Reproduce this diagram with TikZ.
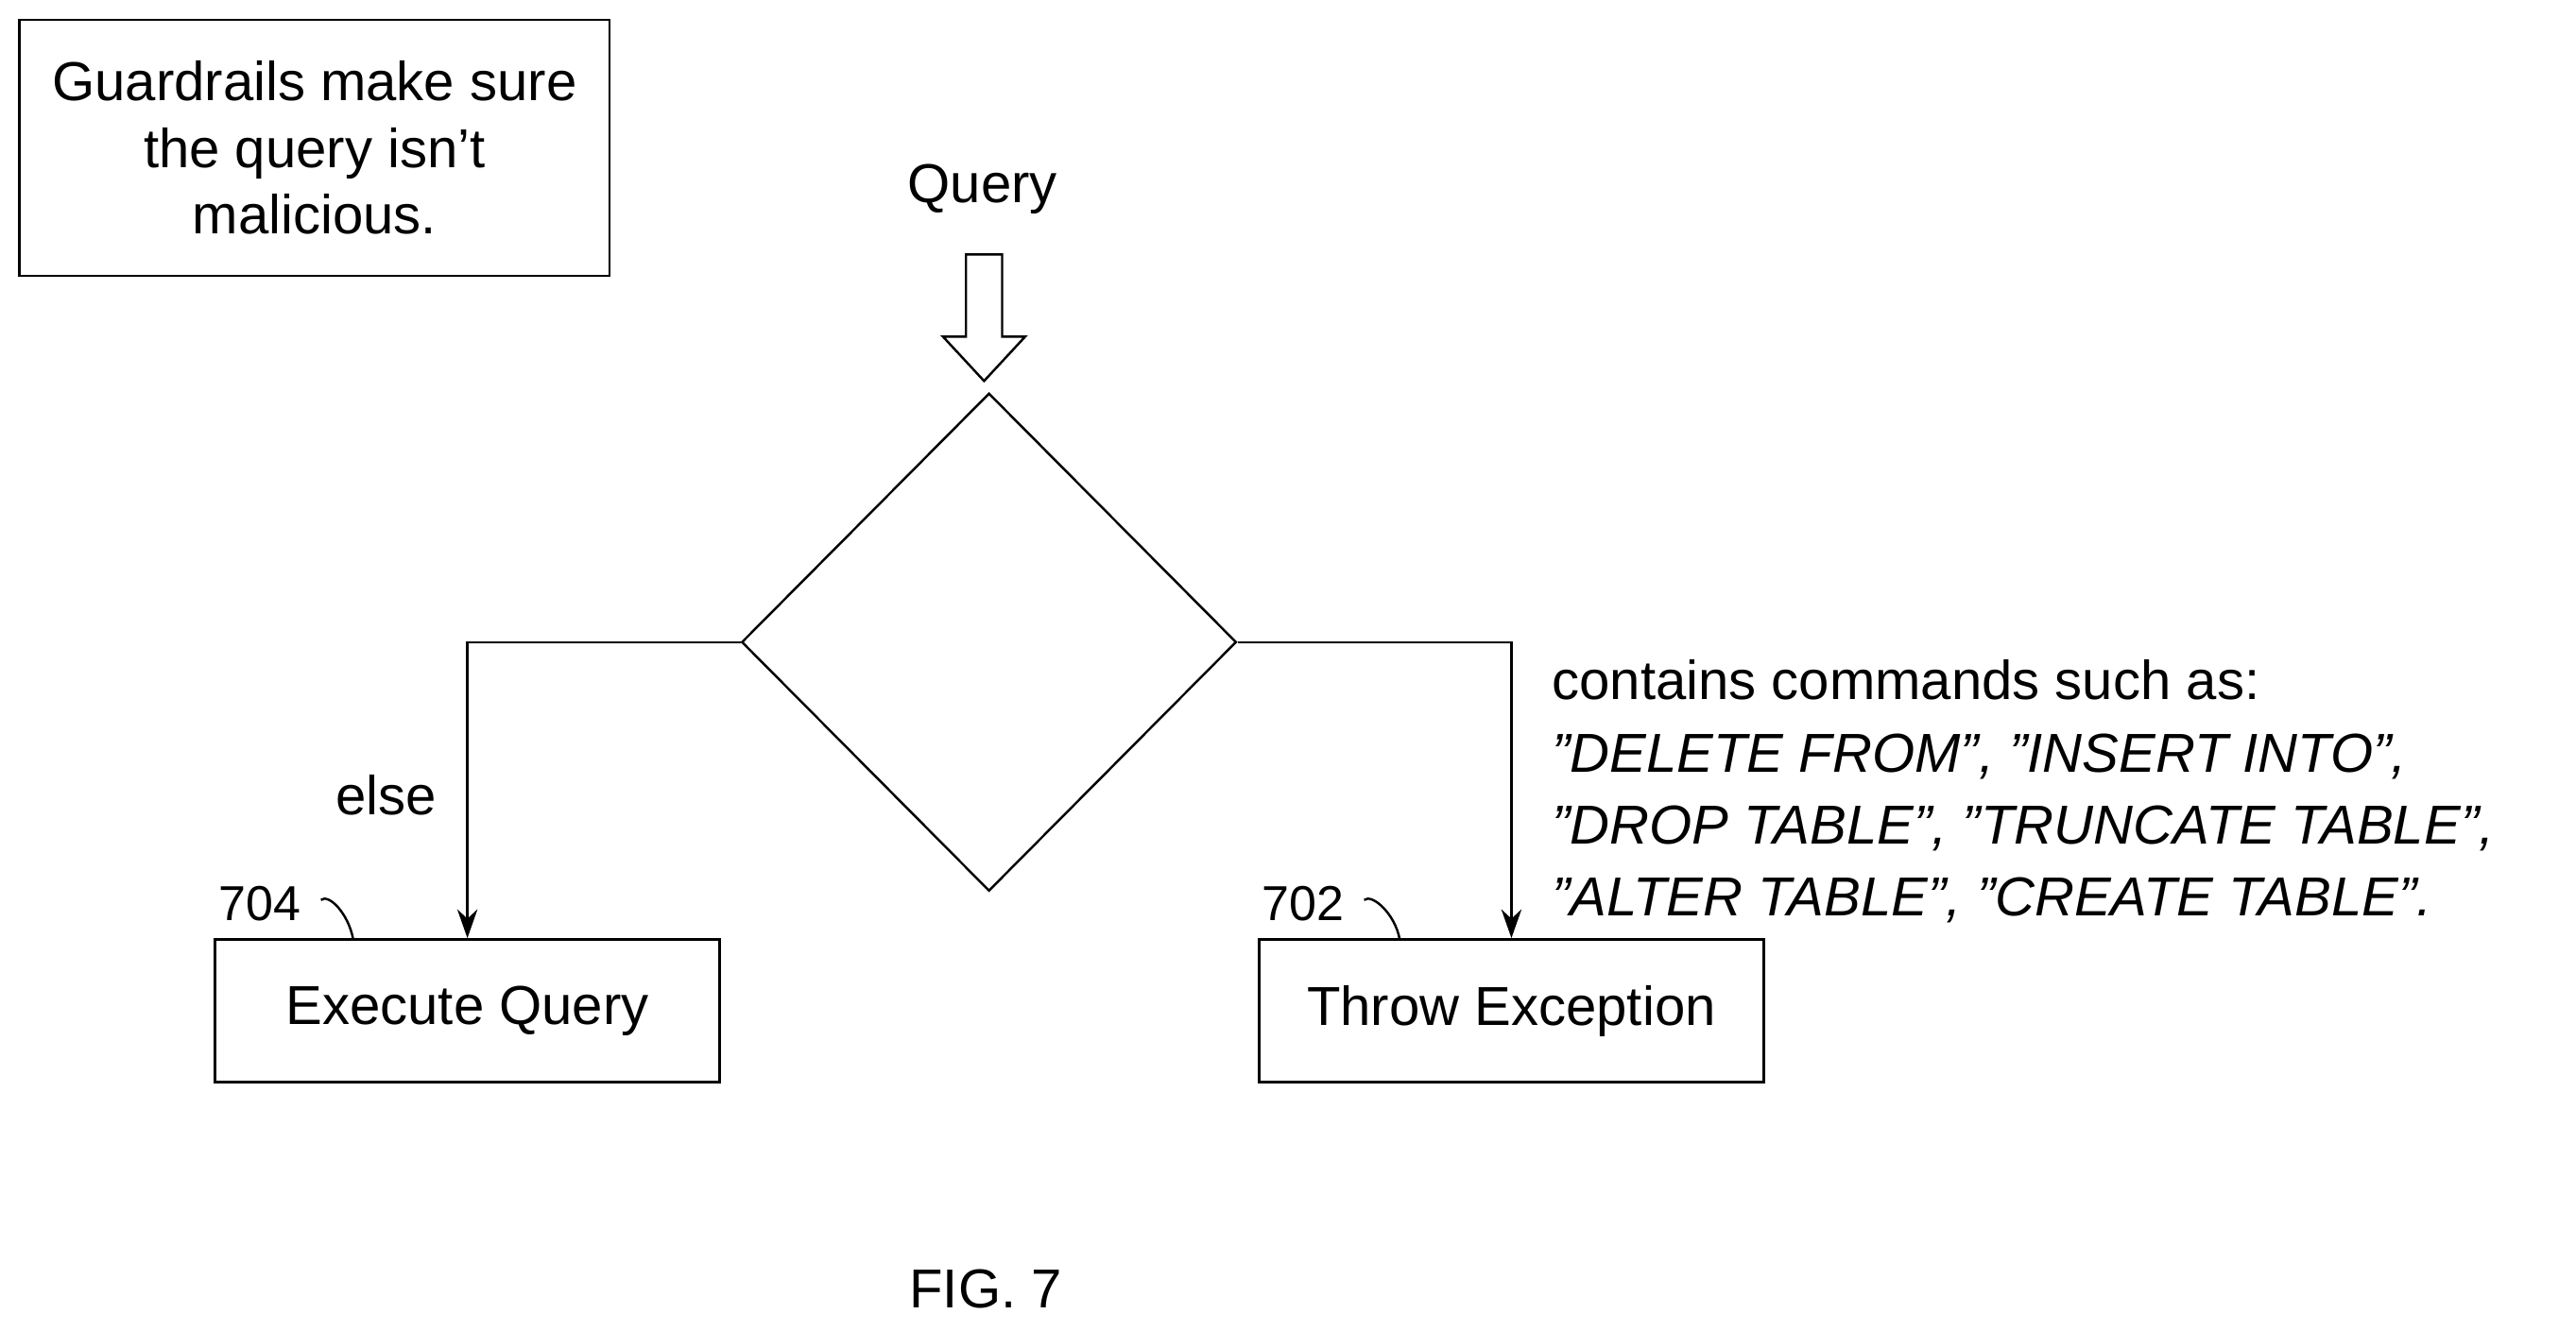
\documentclass[tikz,border=0pt]{standalone}
\usepackage{fontspec}
\setmainfont{Liberation Sans}
\usetikzlibrary{shapes.geometric,arrows.meta,positioning}

\begin{document}
\begin{tikzpicture}[
    x=0.01cm, y=-0.01cm,
    font=\fontsize{9.5}{11.5}\selectfont,
    box/.style={draw, rectangle, thin, minimum width=3.07cm, minimum height=0.87cm, inner sep=0},
    link/.style={-{Stealth[length=5pt,width=3.5pt]}, thin},
    refnum/.style={font=\fontsize{8.5}{10}\selectfont}
]
\useasboundingbox (0,0) rectangle (1568,810);

% Note
\node[draw, thin, minimum width=3.59cm, minimum height=1.56cm, align=center] (note) at (191.5,90) {Guardrails make sure\\the query isn't\\malicious.};

% Query input
\node (query) at (598,115) {Query};
\draw[thin] (588,155) -- (610,155) -- (610,205) -- (624,205) -- (599,232) -- (574,205) -- (588,205) -- cycle;

% Decision
\node[draw, thin, diamond, minimum width=3.01cm, minimum height=3.03cm, inner sep=0] (check) at (602,391) {};

% Outcomes
\node[box] (exec) at (284.5,615.5) {Execute Query};
\node[box] (throw) at (920,615.5) {Throw Exception};

\draw[link] (check.west) -| (exec.north);
\draw[link] (check.east) -| (throw.north);

\node (else) at (235,484) {else};
\node[anchor=west, align=left, inner sep=0] (cmds) at (944,482) {contains commands such as:\\[1pt]
\textit{"DELETE FROM", "INSERT INTO",}\\[1pt]
\textit{"DROP TABLE", "TRUNCATE TABLE",}\\[1pt]
\textit{"ALTER TABLE", "CREATE TABLE".}};

% Reference numerals
\node[refnum] (n704) at (158,550) {704};
\node[refnum] (n702) at (793,550) {702};
\draw[thin] (n704.east) ++(0,-2) .. controls (200,544) and (212,556) .. (215,572);
\draw[thin] (n702.east) ++(0,-2) .. controls (835,544) and (849,556) .. (852,572);

% Caption
\node (fig) at (600,785) {FIG. 7};
\end{tikzpicture}
\end{document}
